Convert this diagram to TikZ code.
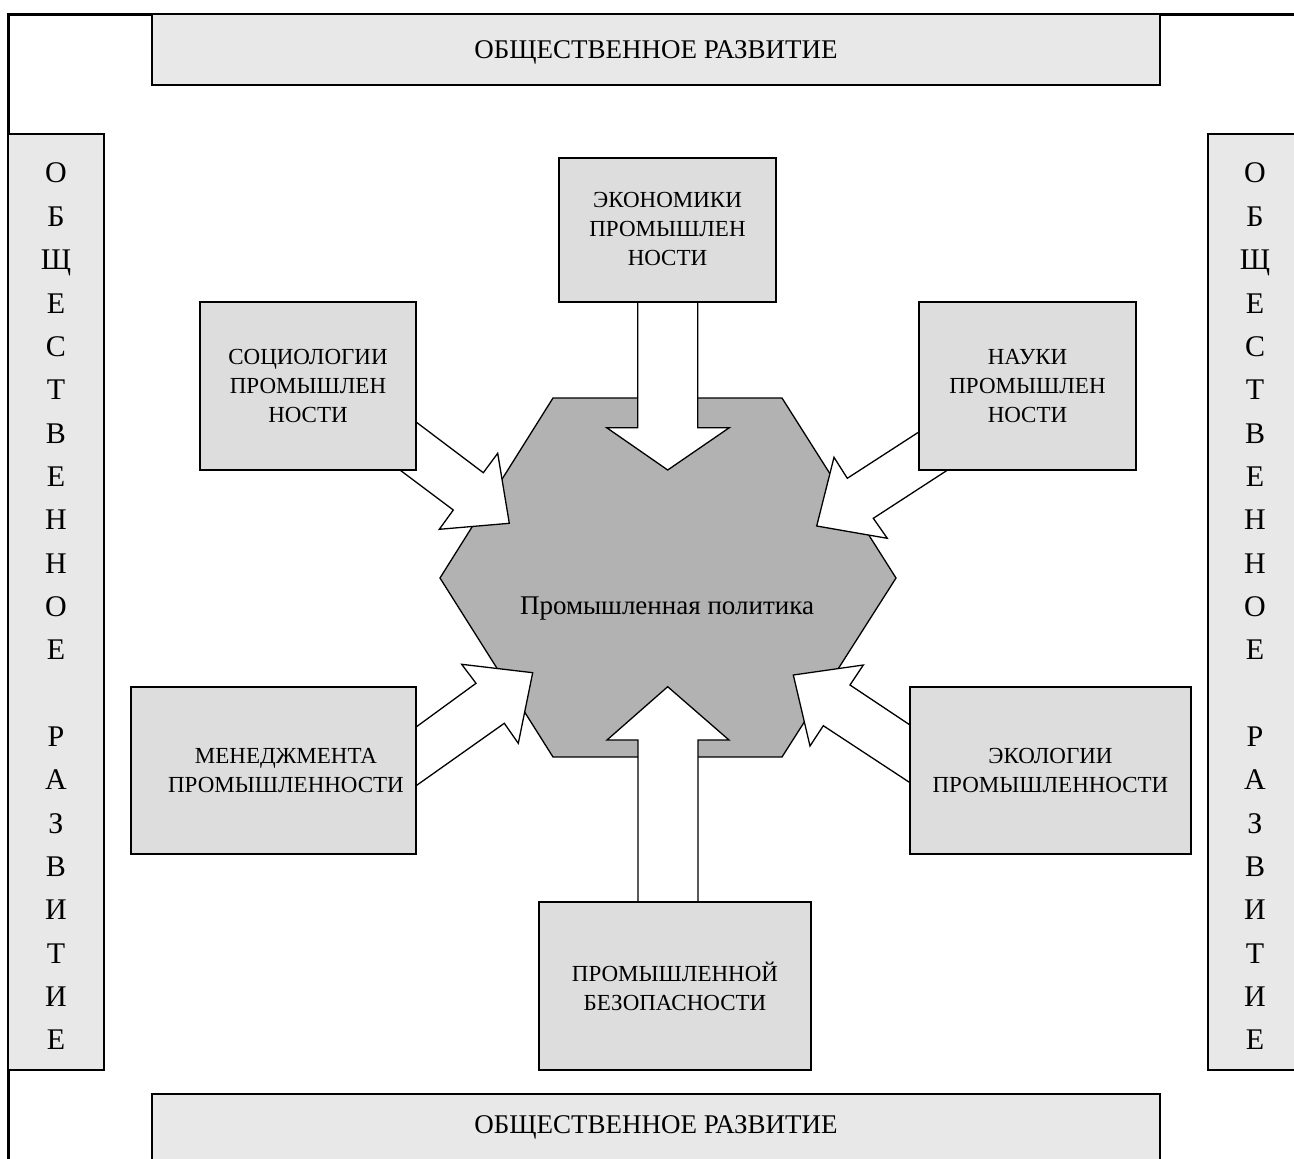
\documentclass[tikz,border=0pt]{standalone}
\usepackage{fontspec}
\setmainfont{Liberation Serif}
\definecolor{outerfill}{RGB}{232,232,232}
\definecolor{innerfill}{RGB}{221,221,221}
\definecolor{hexfill}{RGB}{178,178,178}
\begin{document}
\begin{tikzpicture}[x=1pt,y=-1pt,
  framebox/.style={draw=black, line width=1.5pt, fill=outerfill},
  inbox/.style={draw=black, line width=1.5pt, fill=innerfill},
  boxtext/.style={align=center, font=\fontsize{23}{29}\selectfont, inner sep=0pt},
  bandtext/.style={font=\fontsize{27}{30}\selectfont, inner sep=0pt, text height=17.9pt, text depth=0pt},
  vletter/.style={font=\fontsize{30}{34}\selectfont, inner sep=0pt, text height=19.9pt, text depth=0pt},
  blockarrow/.style={draw=black, line width=1.3pt, fill=white, line join=miter},
  hexstyle/.style={draw=black, line width=1.3pt, fill=hexfill, line join=miter}
]
\useasboundingbox (0,0) rectangle (1294,1159);
% outer frame
\draw[line width=3pt] (8,1170) -- (8,14) -- (1300,14);
% central hexagon
\draw[hexstyle] (553,398) -- (782,398) -- (896,578) -- (782,757) -- (553,757) -- (440,578) -- cycle;
\node[font=\fontsize{27}{30}\selectfont, inner sep=0pt, anchor=base] (hexT) at (667,614) {Промышленная политика};
% block arrows
\draw[blockarrow] (637.7,302) -- (637.7,427.7) -- (606.7,427.7) -- (667.7,470) -- (729.3,427.7) -- (697.7,427.7) -- (697.7,302) -- cycle;
\draw[blockarrow] (638,902) -- (638,740) -- (607,740) -- (667.7,686.7) -- (729,740) -- (698,740) -- (698,902) -- cycle;
\draw[blockarrow] (415.7,421.7) -- (483.3,472.7) -- (497.7,453.3) -- (509.3,523.3) -- (439.3,529.3) -- (453.3,510) -- (400,470) -- cycle;
\draw[blockarrow] (919.3,431.7) -- (847.3,478.3) -- (834,457.3) -- (816.7,526) -- (887.3,538.3) -- (873.3,518.3) -- (948.7,469.3) -- cycle;
\draw[blockarrow] (415.7,727.3) -- (476,683.3) -- (461.7,664.3) -- (532.7,672.7) -- (518.3,743.3) -- (504.3,723.3) -- (415.7,786) -- cycle;
\draw[blockarrow] (910,725) -- (850,685) -- (863.3,665) -- (793.3,675) -- (810,746) -- (823.3,725.7) -- (910,782.7) -- cycle;
% inner boxes
\node[inbox, minimum width=217pt, minimum height=144pt] (econ) at (667.5,230) {};
\node[boxtext] (econT) at (667.5,229) {ЭКОНОМИКИ\\ПРОМЫШЛЕН\\НОСТИ};
\node[inbox, minimum width=216pt, minimum height=168pt] (socio) at (308,386) {};
\node[boxtext] (socioT) at (308,386) {СОЦИОЛОГИИ\\ПРОМЫШЛЕН\\НОСТИ};
\node[inbox, minimum width=217pt, minimum height=168pt] (nauka) at (1027.5,386) {};
\node[boxtext] (naukaT) at (1027.5,386) {НАУКИ\\ПРОМЫШЛЕН\\НОСТИ};
\node[inbox, minimum width=285pt, minimum height=167pt] (mgmt) at (273.5,770.5) {};
\node[boxtext] (mgmtT) at (286,770.5) {МЕНЕДЖМЕНТА\\ПРОМЫШЛЕННОСТИ};
\node[inbox, minimum width=281pt, minimum height=167pt] (eco) at (1050.5,770.5) {};
\node[boxtext] (ecoT) at (1050.5,770.5) {ЭКОЛОГИИ\\ПРОМЫШЛЕННОСТИ};
\node[inbox, minimum width=272pt, minimum height=168pt] (safe) at (675,986) {};
\node[boxtext] (safeT) at (675,986.5) {ПРОМЫШЛЕННОЙ\\БЕЗОПАСНОСТИ};
% outer bands
\node[framebox, minimum width=1008pt, minimum height=71pt] (topband) at (656,49.5) {};
\node[bandtext] (topT) at (656,50) {ОБЩЕСТВЕННОЕ РАЗВИТИЕ};
\node[framebox, minimum width=1008pt, minimum height=80pt] (botband) at (656,1134) {};
\node[bandtext] (botT) at (656,1125) {ОБЩЕСТВЕННОЕ РАЗВИТИЕ};
\node[framebox, minimum width=96pt, minimum height=936pt] (leftband) at (56,602) {};
\node[framebox, minimum width=96pt, minimum height=936pt] (rightband) at (1256,602) {};
\foreach \ch [count=\i from 0] in {О,Б,Щ,Е,С,Т,В,Е,Н,Н,О,Е} {
  \node[vletter] (La\i) at (56,173+43.35*\i) {\ch};
  \node[vletter] (Ra\i) at (1255,173+43.35*\i) {\ch};
}
\foreach \ch [count=\i from 13] in {Р,А,З,В,И,Т,И,Е} {
  \node[vletter] (Lb\i) at (56,173+43.35*\i) {\ch};
  \node[vletter] (Rb\i) at (1255,173+43.35*\i) {\ch};
}
\end{tikzpicture}
\end{document}
